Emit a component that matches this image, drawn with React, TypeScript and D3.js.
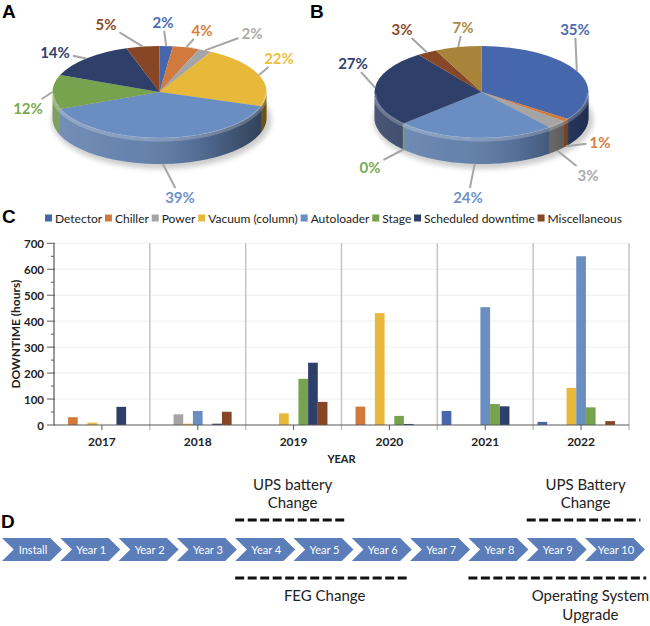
import * as d3 from "d3";
import { useMemo } from "react";

const width = 650;
const height = 626;

// ---- shared categories ----
const seriesNames = [
  "Detector",
  "Chiller",
  "Power",
  "Vacuum (column)",
  "Autoloader",
  "Stage",
  "Scheduled downtime",
  "Miscellaneous"
];
const seriesColors = ["#4767AD", "#D27A3E", "#A5A5A5", "#E8B83A", "#6A8EC1", "#77A34F", "#2E3F69", "#874727"];

// ---- panel A / B pies (percent of downtime) ----
const pieANames = seriesNames;
const pieAValues = [2, 4, 2, 22, 39, 12, 14, 5];
const pieBNames = ["Detector", "Chiller", "Power", "Autoloader", "Stage", "Scheduled downtime", "Miscellaneous", "Other"];
const pieBValues = [35, 1, 3, 24, 0, 27, 3, 7];
const otherColor = "#A8843A";

// ---- panel C bars (hours) ----
const years = ["2017", "2018", "2019", "2020", "2021", "2022"];
const detector = [0, 0, 0, 0, 54, 12];
const chiller = [30, 0, 0, 71, 0, 0];
const power = [0, 41, 0, 0, 0, 0];
const vacuum = [9, 5, 45, 431, 0, 143];
const autoloader = [0, 54, 0, 0, 454, 650];
const stage = [0, 0, 178, 35, 81, 68];
const scheduled = [70, 5, 240, 4, 72, 0];
const misc = [0, 51, 89, 0, 0, 15];
const yTicks = [0, 100, 200, 300, 400, 500, 600, 700];

// ---- panel D timeline ----
const steps = ["Install", "Year 1", "Year 2", "Year 3", "Year 4", "Year 5", "Year 6", "Year 7", "Year 8", "Year 9", "Year 10"];
const eventLines = [["UPS battery", "Change"], ["FEG Change"], ["UPS Battery", "Change"], ["Operating System", "Upgrade"]];
const eventStart = [4, 4, 9, 8];
const eventEnd = [5.9, 7, 10.95, 11.05];
const eventAbove = [true, false, true, false];
const eventAlignEnd = [false, false, false, true];

// label placement around the pies (offset from pie centre)
const pieALabelPos = [[3.5, -70], [42.5, -62], [92.5, -59], [119.5, -34], [20.5, 105], [-131.5, 16], [-104.5, -40], [-53.5, -68]];
const pieBLabelPos = [[93.5, -63], [118.5, 50], [106.5, 83], [-13.5, 105], [-111.5, 75], [-128.5, -29], [-79.5, -63], [-18.5, -65]];

const ctx = typeof document !== "undefined" ? document.createElement("canvas").getContext("2d") : null;
function textWidth(s: string, font: string) {
  if (!ctx) return s.length * 7;
  ctx.font = font;
  return ctx.measureText(s).width;
}

const FONT = "Lato, 'Open Sans', sans-serif";
const colorOf = (name: string) => {
  const i = seriesNames.indexOf(name);
  return i >= 0 ? seriesColors[i] : otherColor;
};

type PieProps = {
  id: string;
  cx: number;
  cy: number;
  names: string[];
  values: number[];
  labelPos: number[][];
};

function Pie3D({ id, cx, cy, names, values, labelPos }: PieProps) {
  const rx = 107;
  const ry = 46;
  const depth = 26;
  const arcs = d3.pie<number>().sort(null).value((d) => d)(values);
  const arcGen = d3.arc<d3.PieArcDatum<number>>().innerRadius(0).outerRadius(rx);
  const pt = (a: number, dy = 0): [number, number] => [cx + rx * Math.sin(a), cy - ry * Math.cos(a) + dy];
  const line = d3.line();

  const sidePath = (a0: number, a1: number) => {
    const s = Math.max(a0, Math.PI / 2);
    const e = Math.min(a1, (3 * Math.PI) / 2);
    if (e <= s) return null;
    const n = Math.max(2, Math.ceil((e - s) / 0.03));
    const angles = d3.range(n + 1).map((i) => s + ((e - s) * i) / n);
    const top = angles.map((a) => pt(a));
    const bottom = angles.slice().reverse().map((a) => pt(a, depth));
    return line([...top, ...bottom]) + "Z";
  };
  const edgePath = (() => {
    const angles = d3.range(61).map((i) => Math.PI / 2 + (Math.PI * i) / 60);
    return line(angles.map((a) => pt(a, 1.5)));
  })();

  return (
    <g>
      <defs>
        <linearGradient id={`${id}-shade`} gradientUnits="userSpaceOnUse" x1={cx - rx} x2={cx + rx} y1={0} y2={0}>
          <stop offset="0" stopColor="#fff" stopOpacity={0.15} />
          <stop offset="0.35" stopColor="#fff" stopOpacity={0.05} />
          <stop offset="0.7" stopColor="#000" stopOpacity={0.15} />
          <stop offset="1" stopColor="#000" stopOpacity={0.5} />
        </linearGradient>
        <filter id={`${id}-blur`} x="-20%" y="-50%" width="140%" height="200%">
          <feGaussianBlur stdDeviation="2.5" />
        </filter>
      </defs>
      <ellipse cx={cx + 2} cy={cy + depth + 2} rx={rx + 3} ry={ry + 3} fill="#b8b8b8" opacity={0.7} filter={`url(#${id}-blur)`} />
      {arcs.map((a, i) => {
        const d = sidePath(a.startAngle, a.endAngle);
        if (!d) return null;
        const c = d3.color(colorOf(names[i]))!.darker(0.35).formatHex();
        return <path key={`s${i}`} d={d} fill={c} />;
      })}
      <path d={sidePath(Math.PI / 2, (3 * Math.PI) / 2) ?? undefined} fill={`url(#${id}-shade)`} />
      {arcs.map((a, i) => {
        if (a.value !== 0) return null;
        const ang = a.startAngle;
        if (Math.cos(ang) > 0) return null;
        const [x1, y1] = pt(ang);
        const [, y2] = pt(ang, depth);
        return <line key={`z${i}`} x1={x1} x2={x1} y1={y1} y2={y2} stroke={colorOf(names[i])} strokeWidth={1.5} />;
      })}
      <g transform={`translate(${cx},${cy}) scale(1,${ry / rx})`}>
        {arcs.map((a, i) => (
          <path key={`t${i}`} d={arcGen(a) ?? undefined} fill={colorOf(names[i])} />
        ))}
      </g>
      <path d={edgePath ?? undefined} fill="none" stroke="#fff" strokeOpacity={0.22} strokeWidth={4} />
      {arcs.map((a, i) => {
        const mid = (a.startAngle + a.endAngle) / 2;
        const [ax, ay] = pt(mid, Math.cos(mid) < -0.05 ? depth : 0);
        const lx = cx + labelPos[i][0];
        const ly = cy + labelPos[i][1];
        const label = `${values[i]}%`;
        const hw = textWidth(label, `bold 15px ${FONT}`) / 2 + 3;
        const dx = ax - lx;
        const dy = ay - ly;
        const t = Math.min(dx === 0 ? Infinity : hw / Math.abs(dx), dy === 0 ? Infinity : 9 / Math.abs(dy));
        const nx = lx + dx * t;
        const ny = ly + dy * t;
        return (
          <g key={`l${i}`}>
            <line x1={nx} y1={ny} x2={ax} y2={ay} stroke="#A6A6A6" strokeWidth={2} />
            <text
              x={lx}
              y={ly}
              textAnchor="middle"
              dominantBaseline="central"
              fontFamily={FONT}
              fontWeight="bold"
              fontSize={15}
              fill={d3.color(colorOf(names[i]))!.brighter(0.1).formatHex()}
            >
              {label}
            </text>
          </g>
        );
      })}
    </g>
  );
}

function BarChart() {
  const series = [detector, chiller, power, vacuum, autoloader, stage, scheduled, misc];
  const x0 = d3.scaleBand<string>().domain(years).range([54, 629]);
  // the source chart leaves room for a ninth (empty) series in each group
  const x1 = d3
    .scaleBand<number>()
    .domain(d3.range(seriesNames.length + 1))
    .range([0, x0.bandwidth()])
    .paddingOuter(0.45);
  const y = d3.scaleLinear().domain([0, 700]).range([425, 243.3]);
  const minor = d3.range(50, 700, 100);

  const legendFont = `12px ${FONT}`;
  const widths = seriesNames.map((n) => textWidth(n, legendFont));
  const legendStart = 45;
  const legendEnd = 622;
  const gap = (legendEnd - legendStart - d3.sum(widths) - 10 * widths.length) / (widths.length - 1);
  let cursor = legendStart;
  const legendX = widths.map((w) => {
    const x = cursor;
    cursor += 10 + w + gap;
    return x;
  });

  return (
    <g>
      {seriesNames.map((n, i) => (
        <g key={n}>
          <rect x={legendX[i]} y={214.5} width={7} height={7} fill={seriesColors[i]} />
          <text x={legendX[i] + 10} y={218} dominantBaseline="central" fontFamily={FONT} fontSize={12} fill="#222">
            {n}
          </text>
        </g>
      ))}
      {yTicks.slice(1).map((t) => (
        <line key={`g${t}`} x1={x0.range()[0]} x2={x0.range()[1]} y1={y(t)} y2={y(t)} stroke="#eeeeee" />
      ))}
      {years.map((yr) => (
        <line
          key={`sep${yr}`}
          x1={x0(yr)! + x0.bandwidth()}
          x2={x0(yr)! + x0.bandwidth()}
          y1={y(700)}
          y2={y(0) + 5}
          stroke="#c4c4c4"
          strokeWidth={1.5}
        />
      ))}
      {series.map((vals, si) =>
        years.map((yr, yi) =>
          vals[yi] > 0 ? (
            <rect
              key={`b${si}-${yi}`}
              x={x0(yr)! + x1(si)!}
              width={x1.bandwidth()}
              y={y(vals[yi])}
              height={y(0) - y(vals[yi])}
              fill={seriesColors[si]}
            />
          ) : null
        )
      )}
      <line x1={x0.range()[0]} x2={x0.range()[1]} y1={y(0)} y2={y(0)} stroke="#595959" strokeWidth={1.2} />
      <line x1={x0.range()[0]} x2={x0.range()[0]} y1={y(700)} y2={y(0)} stroke="#595959" strokeWidth={1.2} />
      {yTicks.map((t) => (
        <g key={`yt${t}`}>
          <line x1={x0.range()[0] - 7} x2={x0.range()[0] + 1} y1={y(t)} y2={y(t)} stroke="#595959" />
          <text
            x={44}
            y={y(t)}
            textAnchor="end"
            dominantBaseline="central"
            fontFamily={FONT}
            fontWeight="bold"
            fontSize={11.5}
            fill="#222"
          >
            {t}
          </text>
        </g>
      ))}
      {minor.map((t) => (
        <line key={`m${t}`} x1={x0.range()[0] - 3} x2={x0.range()[0]} y1={y(t)} y2={y(t)} stroke="#595959" />
      ))}
      {years.map((yr) => {
        const cx = x0(yr)! + x0.bandwidth() / 2;
        return (
          <g key={`xl${yr}`}>
            <line x1={cx} x2={cx} y1={y(0)} y2={y(0) + 5} stroke="#595959" />
            <text x={cx} y={446} textAnchor="middle" fontFamily={FONT} fontWeight="bold" fontSize={12} fill="#222">
              {yr}
            </text>
          </g>
        );
      })}
      <text
        x={(x0.range()[0] + x0.range()[1]) / 2}
        y={463}
        textAnchor="middle"
        fontFamily={FONT}
        fontWeight="bold"
        fontSize={11}
        fill="#222"
      >
        YEAR
      </text>
      <text
        transform={`translate(15,${(y(0) + y(700)) / 2}) rotate(-90)`}
        textAnchor="middle"
        dominantBaseline="central"
        fontFamily={FONT}
        fontWeight="bold"
        fontSize={12}
        fill="#222"
      >
        DOWNTIME (hours)
      </text>
    </g>
  );
}

function Timeline() {
  const xs = d3.scaleLinear().domain([0, steps.length]).range([2, 2 + steps.length * 58.3]);
  const len = 60;
  const tip = 11.7;
  const top = 538;
  const bottom = 561;
  const mid = (top + bottom) / 2;
  const line = d3.line();
  const eventFont = `15px ${FONT}`;

  return (
    <g>
      {steps.map((s, i) => {
        const l = xs(i);
        const d =
          line([
            [l, top],
            [l + len - tip, top],
            [l + len, mid],
            [l + len - tip, bottom],
            [l, bottom],
            [l + tip, mid]
          ]) + "Z";
        return (
          <g key={s}>
            <path d={d} fill="#5B7DB9" />
            <text
              x={l + len / 2 + 1}
              y={mid}
              textAnchor="middle"
              dominantBaseline="central"
              fontFamily={FONT}
              fontSize={11}
              fill="#fff"
            >
              {s}
            </text>
          </g>
        );
      })}
      {eventLines.map((lines, i) => {
        const x1 = xs(eventStart[i]);
        const x2 = xs(eventEnd[i]);
        const ly = eventAbove[i] ? 520 : 578;
        const w = d3.max(lines, (t) => textWidth(t, eventFont)) ?? 0;
        const cx = eventAlignEnd[i] ? x2 + 3 - w / 2 : (x1 + x2) / 2 + 2;
        return (
          <g key={`e${i}`}>
            <line x1={x1} x2={x2} y1={ly} y2={ly} stroke="#111" strokeWidth={3} strokeDasharray="9 3.5" />
            {lines.map((t, j) => (
              <text
                key={t}
                x={cx}
                y={eventAbove[i] ? 508 - (lines.length - 1 - j) * 18 : 601 + j * 19}
                textAnchor="middle"
                fontFamily={FONT}
                fontSize={15}
                fill="#222"
              >
                {t}
              </text>
            ))}
          </g>
        );
      })}
    </g>
  );
}

export default function App() {
  const panelFont = "'Liberation Sans', Arial, sans-serif";
  const letters = useMemo(
    () => [
      { t: "A", x: 2, y: 18 },
      { t: "B", x: 310, y: 18 },
      { t: "C", x: 2, y: 223 },
      { t: "D", x: 1, y: 528 }
    ],
    []
  );
  return (
    <div style={{ position: "absolute", left: 0, top: 0 }}>
      <style>{`body{margin:0}`}</style>
      <svg width={width} height={height} viewBox={`0 0 ${width} ${height}`} style={{ display: "block", background: "#fff" }}>
        <rect width={width} height={height} fill="#fff" />
        <Pie3D id="pa" cx={159.5} cy={92} names={pieANames} values={pieAValues} labelPos={pieALabelPos} />
        <Pie3D id="pb" cx={481.5} cy={92} names={pieBNames} values={pieBValues} labelPos={pieBLabelPos} />
        <BarChart />
        <Timeline />
        {letters.map((l) => (
          <text key={l.t} x={l.x} y={l.y} fontFamily={panelFont} fontWeight="bold" fontSize={19} fill="#000">
            {l.t}
          </text>
        ))}
      </svg>
    </div>
  );
}
